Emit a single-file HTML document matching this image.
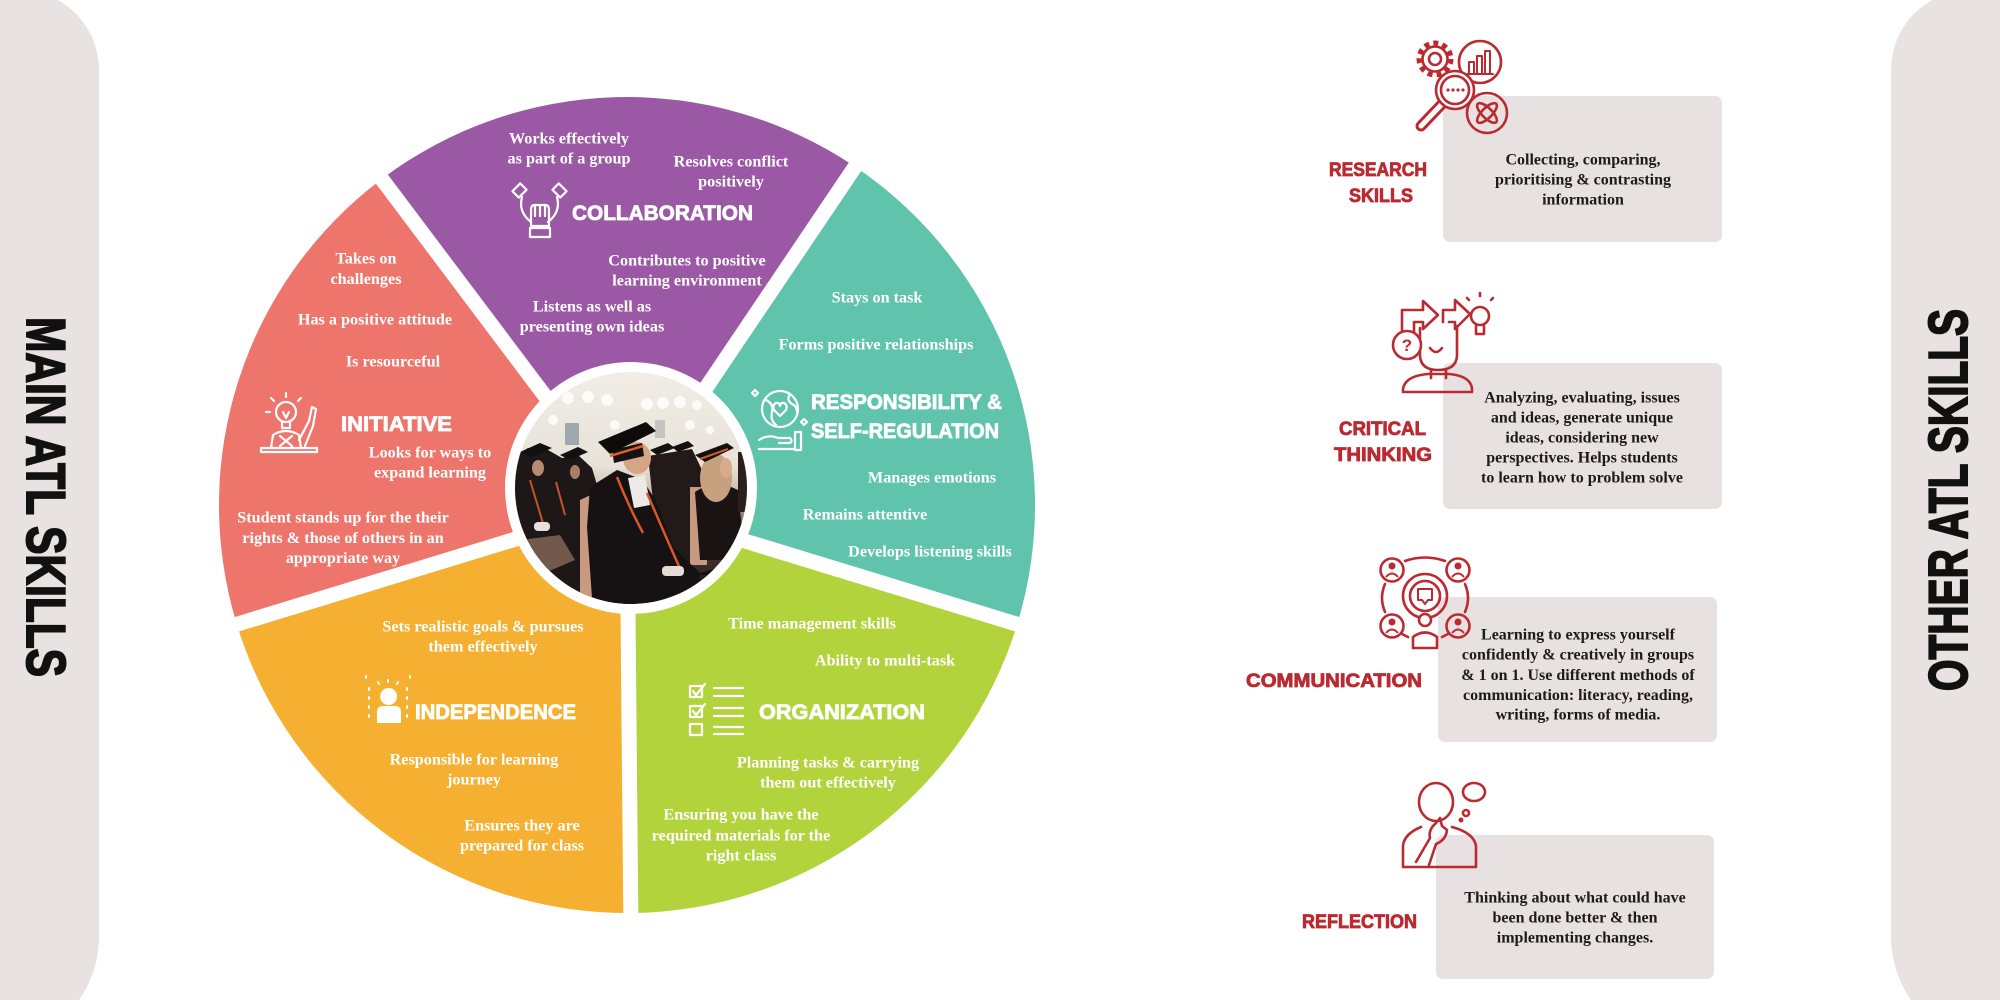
<!DOCTYPE html>
<html><head><meta charset="utf-8">
<style>
html,body{margin:0;padding:0;background:#fff;width:2000px;height:1000px;overflow:hidden}
svg{display:block}
</style></head>
<body>
<svg width="2000" height="1000" viewBox="0 0 2000 1000" xmlns="http://www.w3.org/2000/svg">
<defs>
<clipPath id="ph"><circle cx="631" cy="488" r="116"/></clipPath>
<linearGradient id="bg" x1="0" y1="0" x2="0" y2="1">
 <stop offset="0" stop-color="#f1eee7"/>
 <stop offset="0.4" stop-color="#e8e2d8"/>
 <stop offset="0.55" stop-color="#bfae9f"/>
 <stop offset="0.68" stop-color="#4a3631"/>
 <stop offset="1" stop-color="#241b19"/>
</linearGradient>
</defs>
<rect width="2000" height="1000" fill="#fff"/>

<!-- side bars -->
<path d="M -10,-10 L 19,-10 A 80 80 0 0 1 99,70 L 99,937 A 109 109 0 0 1 -10,1046 Z" fill="#e9e2e3"/>
<path d="M 2010,-10 L 1971,-10 A 80 80 0 0 0 1891,70 L 1891,937 A 109 109 0 0 0 2000,1046 L 2010,1046 Z" fill="#e9e2e3"/>

<text transform="translate(27,317) rotate(90)" x="0" y="0" font-family="Liberation Sans, sans-serif" font-weight="bold" font-size="55" textLength="360" lengthAdjust="spacingAndGlyphs" fill="#111" stroke="#111" stroke-width="2">MAIN ATL SKILLS</text>
<text transform="translate(1967,691) rotate(-90)" x="0" y="0" font-family="Liberation Sans, sans-serif" font-weight="bold" font-size="55" textLength="382" lengthAdjust="spacingAndGlyphs" fill="#111" stroke="#111" stroke-width="2">OTHER ATL SKILLS</text>

<!-- pie sectors -->
<path d="M627,505 L381.5,179.2 A408 408 0 0 1 855.2,166.8 Z" fill="#9b58a5"/>
<path d="M627,505 L855.2,166.8 A408 408 0 0 1 1017.2,624.3 Z" fill="#60c4ad"/>
<path d="M627,505 L1017.2,624.3 A408 408 0 0 1 630.6,913 Z" fill="#b3d33c"/>
<path d="M627,505 L630.6,913 A408 408 0 0 1 236.8,624.3 Z" fill="#f5b032"/>
<path d="M627,505 L236.8,624.3 A408 408 0 0 1 381.5,179.2 Z" fill="#ee756b"/>

<!-- gaps -->
<g stroke="#fff" stroke-width="15" stroke-linecap="butt">
<line x1="627" y1="505" x2="369" y2="162"/>
<line x1="627" y1="505" x2="867" y2="149"/>
<line x1="627" y1="505" x2="1036" y2="630"/>
<line x1="627" y1="505" x2="631" y2="935"/>
<line x1="627" y1="505" x2="218" y2="630"/>
</g>

<!-- photo -->
<circle cx="631" cy="488" r="126" fill="#fff"/>
<g clip-path="url(#ph)">
 <rect x="510" y="368" width="245" height="245" fill="url(#bg)"/>
 <g fill="#ffffff" opacity="0.8">
  <circle cx="568" cy="398" r="6"/><circle cx="588" cy="397" r="6"/><circle cx="607" cy="400" r="6"/>
  <circle cx="647" cy="404" r="6"/><circle cx="663" cy="403" r="6"/><circle cx="680" cy="402" r="6"/><circle cx="697" cy="405" r="5"/>
  <circle cx="553" cy="420" r="5"/><circle cx="690" cy="425" r="5"/><circle cx="615" cy="425" r="5"/><circle cx="710" cy="430" r="4"/>
 </g>
 <rect x="565" y="423" width="14" height="22" fill="#6d7d90" opacity="0.6"/>
 <rect x="655" y="420" width="10" height="18" fill="#8f8f9c" opacity="0.4"/>
 <!-- left crowd -->
 <path d="M512,458 L528,448 L548,450 L562,458 L578,455 L592,468 L600,495 L598,610 L512,610 Z" fill="#1e1717"/>
 <polygon points="520,452 540,443 552,448 532,457" fill="#111"/>
 <polygon points="560,455 578,447 588,452 570,460" fill="#111"/>
 <ellipse cx="538" cy="468" rx="6" ry="8" fill="#b98a70"/>
 <ellipse cx="575" cy="472" rx="5" ry="7" fill="#a97c66"/>
 <line x1="530" y1="480" x2="545" y2="530" stroke="#c9532a" stroke-width="2"/>
 <line x1="556" y1="482" x2="565" y2="515" stroke="#c9532a" stroke-width="2"/>
 <rect x="534" y="522" width="16" height="9" rx="4" fill="#e8e0da"/>
 <polygon points="520,540 560,535 575,560 540,575" fill="#c89a82" opacity="0.5"/>
 <!-- mid crowd -->
 <path d="M648,456 L692,449 L702,470 L698,565 L660,565 Z" fill="#221919"/>
 <polygon points="650,450 668,443 675,448 657,455" fill="#111"/>
 <polygon points="672,447 688,441 694,446 678,452" fill="#111"/>
 <!-- chair -->
 <polygon points="580,500 597,492 602,610 580,610" fill="#c99a80"/>
 <!-- right woman -->
 <polygon points="690,487 707,487 707,565 690,565" fill="#c89b80"/>
 <path d="M695,492 Q715,478 738,490 L745,560 L700,560 Z" fill="#191313"/>
 <ellipse cx="716" cy="478" rx="16" ry="24" fill="#c7a17e"/>
 <ellipse cx="726" cy="468" rx="6" ry="10" fill="#d9ab8d"/>
 <polygon points="695,455 727,443 734,448 705,462" fill="#111"/>
 <line x1="700" y1="459" x2="728" y2="449" stroke="#d5552a" stroke-width="2"/>
 <rect x="738" y="452" width="12" height="60" fill="#2a1f1e"/>
 <!-- main figure -->
 <polygon points="590,487 617,470 643,480 657,503 673,547 700,573 720,567 716,612 593,612 587,527" fill="#161213"/>
 <polygon points="628,478 645,475 650,505 634,508" fill="#ece9e6"/>
 <ellipse cx="637" cy="458" rx="14" ry="16" fill="#d6a486"/>
 <polygon points="612,450 642,443 644,456 614,463" fill="#161213"/>
 <polygon points="598,442 646,422 656,431 610,454" fill="#0e0b0b"/>
 <line x1="610" y1="456" x2="643" y2="446" stroke="#e05a2a" stroke-width="2.5"/>
 <path d="M617,477 Q628,505 643,533" stroke="#d9572b" stroke-width="2.5" fill="none"/>
 <path d="M647,493 Q665,535 682,573" stroke="#d9572b" stroke-width="2.5" fill="none"/>
 <rect x="662" y="566" width="22" height="10" rx="4" fill="#e5dcd5"/>
 <rect x="700" y="575" width="50" height="40" fill="#2b1f1d"/>
</g>

<!-- ===== pie icons (white) ===== -->
<g fill="none" stroke="#fff" stroke-width="2.2" stroke-linejoin="round" stroke-linecap="round">
 <!-- collaboration -->
 <rect x="514" y="186" width="11" height="9" transform="rotate(-45 519.5 190.5)"/>
 <rect x="554" y="186" width="11" height="9" transform="rotate(45 559.5 190.5)"/>
 <path d="M522,197 Q518,212 531,222"/>
 <path d="M557,197 Q561,212 548,222"/>
 <path d="M531,226 L531,210 Q531,205 535,205 L545,205 Q549,205 549,210 L549,226 Z"/>
 <path d="M535,205 L535,216 M540,205 L540,216 M545,205 L545,216"/>
 <rect x="530" y="228" width="20" height="9"/>
 <!-- initiative -->
 <circle cx="286" cy="412" r="10"/>
 <path d="M282,422 L282,428 L290,428 L290,422 M283,412 L286,418 L289,412"/>
 <path d="M286,397 L286,393 M274,401 L271,398 M298,401 L301,398 M270,412 L266,412"/>
 <path d="M271,448 L273,435 Q286,427 299,435 L301,448"/>
 <path d="M280,436 L292,446 M292,436 L280,446"/>
 <path d="M299,440 L309,421 L312,407 L316,409 L313,426 L305,446"/>
 <rect x="261" y="448" width="56" height="4"/>
 <!-- responsibility -->
 <circle cx="780" cy="409" r="18"/>
 <path d="M766,400 Q774,404 772,412 Q770,420 776,425 M790,394 Q786,400 792,404 Q797,406 797,412"/>
 <path d="M780,416 L774,410 Q772,405 776,403 Q779,402 780,406 Q781,402 784,403 Q788,405 786,410 Z"/>
 <path d="M759,440 Q768,434 778,438 L790,438 Q793,441 790,443 L779,443 M759,449 L795,449"/>
 <rect x="795" y="432" width="6" height="18"/>
 <path d="M755,390 L758,393 L755,396 L752,393 Z M804,419 L807,422 L804,425 L801,422 Z"/>
 <!-- organization -->
 <rect x="690" y="686" width="12" height="11"/>
 <rect x="690" y="706" width="12" height="11"/>
 <rect x="690" y="724" width="12" height="11"/>
 <path d="M693,691 L696,695 L705,684 M693,711 L696,715 L705,704"/>
 <path d="M714,688 L743,688 M714,696 L743,696 M714,708 L743,708 M714,716 L743,716 M714,727 L743,727 M714,734 L743,734"/>
 <!-- independence rays -->
 <path d="M369,688 L369,690 M369,697 L369,699 M369,706 L369,708 M369,715 L369,717 M407,688 L407,690 M407,697 L407,699 M407,706 L407,708 M407,715 L407,717 M366,676 L366,678 M410,676 L410,678 M378,682 L379,684 M388,680 L388,682 M398,682 L397,684" stroke-width="2"/>
</g>
<g fill="#fff">
 <circle cx="388.6" cy="696.5" r="8.5"/>
 <path d="M377,723 L377,712 Q377,706 383,706 L395,706 Q401,706 401,712 L401,723 Z"/>
</g>

<!-- ===== pie headings ===== -->
<g font-family="Liberation Sans, Arial, sans-serif" font-weight="bold" font-size="21" fill="#fff" stroke="#fff" stroke-width="0.8">
 <text x="572" y="220" textLength="181" lengthAdjust="spacingAndGlyphs">COLLABORATION</text>
 <text x="341" y="431" textLength="111" lengthAdjust="spacingAndGlyphs">INITIATIVE</text>
 <text x="811" y="409" textLength="191" lengthAdjust="spacingAndGlyphs">RESPONSIBILITY &amp;</text>
 <text x="811" y="438" textLength="188" lengthAdjust="spacingAndGlyphs">SELF-REGULATION</text>
 <text x="759" y="719" textLength="166" lengthAdjust="spacingAndGlyphs">ORGANIZATION</text>
 <text x="415" y="719" textLength="161" lengthAdjust="spacingAndGlyphs">INDEPENDENCE</text>
</g>

<!-- ===== pie body text ===== -->
<g font-family="Liberation Serif, 'DejaVu Serif', serif" font-weight="bold" font-size="16.2" fill="#fff" text-anchor="middle">
 <text x="569" y="143.5">Works effectively</text>
 <text x="569" y="163.5">as part of a group</text>
 <text x="731" y="166.5">Resolves conflict</text>
 <text x="731" y="186.5">positively</text>
 <text x="687" y="265.5">Contributes to positive</text>
 <text x="687" y="285.5">learning environment</text>
 <text x="592" y="311.5">Listens as well as</text>
 <text x="592" y="331.5">presenting own ideas</text>

 <text x="366" y="263.5">Takes on</text>
 <text x="366" y="284">challenges</text>
 <text x="375" y="324.5">Has a positive attitude</text>
 <text x="393" y="366.5">Is resourceful</text>
 <text x="430" y="457.5">Looks for ways to</text>
 <text x="430" y="477.5">expand learning</text>
 <text x="343" y="522.5">Student stands up for the their</text>
 <text x="343" y="543">rights &amp; those of others in an</text>
 <text x="343" y="563">appropriate way</text>

 <text x="877" y="302.5">Stays on task</text>
 <text x="876" y="349.5">Forms positive relationships</text>
 <text x="932" y="482.5">Manages emotions</text>
 <text x="865" y="519.5">Remains attentive</text>
 <text x="930" y="556.5">Develops listening skills</text>

 <text x="812" y="628.5">Time management skills</text>
 <text x="885" y="665.5">Ability to multi-task</text>
 <text x="828" y="767.5">Planning tasks &amp; carrying</text>
 <text x="828" y="787.5">them out effectively</text>
 <text x="741" y="819.5">Ensuring you have the</text>
 <text x="741" y="840.5">required materials for the</text>
 <text x="741" y="860.5">right class</text>

 <text x="483" y="631.5">Sets realistic goals &amp; pursues</text>
 <text x="483" y="651.5">them effectively</text>
 <text x="474" y="764.5">Responsible for learning</text>
 <text x="474" y="784.5">journey</text>
 <text x="522" y="830.5">Ensures they are</text>
 <text x="522" y="850.5">prepared for class</text>
</g>

<!-- ===== right side boxes ===== -->
<g fill="#e8e1e2">
 <rect x="1443" y="96" width="279" height="146" rx="7"/>
 <rect x="1443" y="363" width="279" height="146" rx="7"/>
 <rect x="1438" y="597" width="279" height="145" rx="7"/>
 <rect x="1436" y="835" width="278" height="144" rx="7"/>
</g>

<g font-family="Liberation Serif, 'DejaVu Serif', serif" font-weight="bold" font-size="16" fill="#1b1b1b" text-anchor="middle">
 <text x="1583" y="164.5">Collecting, comparing,</text>
 <text x="1583" y="184.5">prioritising &amp; contrasting</text>
 <text x="1583" y="204.5">information</text>

 <text x="1582" y="402.5">Analyzing, evaluating, issues</text>
 <text x="1582" y="422.5">and ideas, generate unique</text>
 <text x="1582" y="442.5">ideas, considering new</text>
 <text x="1582" y="462.5">perspectives. Helps students</text>
 <text x="1582" y="482.5">to learn how to problem solve</text>

 <text x="1578" y="639.5">Learning to express yourself</text>
 <text x="1578" y="659.5">confidently &amp; creatively in groups</text>
 <text x="1578" y="680">&amp; 1 on 1. Use different methods of</text>
 <text x="1578" y="700">communication: literacy, reading,</text>
 <text x="1578" y="719.5">writing, forms of media.</text>

 <text x="1575" y="902.5">Thinking about what could have</text>
 <text x="1575" y="922.5">been done better &amp; then</text>
 <text x="1575" y="942.5">implementing changes.</text>
</g>

<g font-family="Liberation Sans, Arial, sans-serif" font-weight="bold" font-size="19" fill="#bb2a30" stroke="#bb2a30" stroke-width="0.8">
 <text x="1329" y="176" textLength="98" lengthAdjust="spacingAndGlyphs">RESEARCH</text>
 <text x="1349" y="202" textLength="64" lengthAdjust="spacingAndGlyphs">SKILLS</text>
 <text x="1339" y="435" textLength="87" lengthAdjust="spacingAndGlyphs">CRITICAL</text>
 <text x="1334" y="461" textLength="98" lengthAdjust="spacingAndGlyphs">THINKING</text>
 <text x="1246" y="687" textLength="176" lengthAdjust="spacingAndGlyphs">COMMUNICATION</text>
 <text x="1302" y="928" textLength="115" lengthAdjust="spacingAndGlyphs">REFLECTION</text>
</g>

<!-- ===== red icons ===== -->
<g fill="none" stroke="#bb2a30" stroke-width="2.6" stroke-linejoin="round" stroke-linecap="round">
 <!-- research -->
 <circle cx="1435" cy="59" r="16" stroke-width="5" stroke-dasharray="5 4.2" stroke-linecap="butt"/>
 <circle cx="1435" cy="59" r="12.5"/>
 <circle cx="1435" cy="59" r="6"/>
 <circle cx="1480" cy="62" r="21" fill="#fff"/>
 <path d="M1469,73 L1469,62 L1474,62 L1474,73 M1477,73 L1477,56 L1482,56 L1482,73 M1485,73 L1485,51 L1490,51 L1490,73 M1467,74 L1493,74" stroke-width="2"/>
 <line x1="1442" y1="104" x2="1421" y2="126" stroke-width="11"/>
 <line x1="1442" y1="104" x2="1421" y2="126" stroke="#fff" stroke-width="5"/>
 <circle cx="1455" cy="90" r="19" fill="#fff"/>
 <circle cx="1455" cy="90" r="14"/>
 <g fill="#bb2a30" stroke="none"><circle cx="1448" cy="90" r="1.6"/><circle cx="1453" cy="90" r="1.6"/><circle cx="1458" cy="90" r="1.6"/><circle cx="1463" cy="90" r="1.6"/></g>
 <circle cx="1487" cy="113" r="20"/>
 <ellipse cx="1487" cy="113" rx="13" ry="5" transform="rotate(45 1487 113)"/>
 <ellipse cx="1487" cy="113" rx="13" ry="5" transform="rotate(-45 1487 113)"/>
 <!-- critical thinking -->
 <path d="M1420,328 L1420,356 Q1421,370 1438,370 Q1456,370 1457,356 L1457,326"/>
 <path d="M1430,348 Q1436,356 1442,348"/>
 <path d="M1431,370 L1431,378 M1446,370 L1446,378"/>
 <path d="M1403,392 L1403,389 Q1405,376 1428,374 L1449,374 Q1471,376 1472,389 L1472,392 Z"/>
 <path d="M1402,333 L1402,310 L1423,310 L1423,301 L1438,315 L1423,329 L1423,322 L1414,322 L1414,335"/>
 <path d="M1443,322 L1443,310 L1455,310 L1455,300 L1470,314 L1455,329 L1455,322 L1449,322"/>
 <circle cx="1407" cy="345" r="14" fill="#fff"/>
 <circle cx="1480" cy="316" r="9"/>
 <path d="M1476,326 L1476,334 L1484,334 L1484,326 M1480,296 L1480,293 M1469,300 L1467,298 M1491,300 L1493,298" />
 <!-- communication -->
 <circle cx="1392" cy="570" r="11.5"/><circle cx="1458" cy="570" r="11.5"/>
 <circle cx="1392" cy="626" r="11.5"/><circle cx="1458" cy="626" r="11.5"/>
 <path d="M1405,561 Q1425,554 1445,561 M1385,584 Q1379,598 1385,612 M1465,584 Q1471,598 1465,612 M1402,634 L1408,637 M1448,634 L1442,637"/>
 <circle cx="1425" cy="596" r="22"/>
 <circle cx="1425" cy="596" r="15"/>
 <path d="M1418,589 L1432,589 L1432,600 L1428,600 L1425,604 L1422,600 L1418,600 Z" stroke-width="2"/>
 <circle cx="1425" cy="620" r="6" fill="#fff"/>
 <path d="M1413,648 L1413,637 Q1425,628 1437,637 L1437,648 Z" fill="#fff"/>
 <!-- reflection -->
 <ellipse cx="1436" cy="802" rx="17" ry="19"/>
 <path d="M1403,867 L1403,846 Q1404,834 1421,827 M1452,827 Q1474,833 1476,846 L1476,867 L1403,867"/>
 <path d="M1416,862 L1430,838 Q1428,830 1436,823 L1440,818 L1442,826 L1447,830 Q1446,840 1436,844 L1429,865"/>
 <ellipse cx="1474" cy="792" rx="11" ry="9"/>
 <circle cx="1466" cy="813" r="3"/>
 <circle cx="1461" cy="820" r="1.2"/>
</g>
<g fill="#bb2a30" stroke="none">
 <circle cx="1392" cy="566" r="3.5"/><circle cx="1458" cy="566" r="3.5"/><circle cx="1392" cy="622" r="3.5"/><circle cx="1458" cy="622" r="3.5"/>
</g>
<g fill="none" stroke="#bb2a30" stroke-width="2">
 <path d="M1386,577 Q1392,570 1398,577"/><path d="M1452,577 Q1458,570 1464,577"/>
 <path d="M1386,633 Q1392,626 1398,633"/><path d="M1452,633 Q1458,626 1464,633"/>
</g>
<text x="1407" y="351" text-anchor="middle" font-family="Liberation Sans, sans-serif" font-weight="bold" font-size="17" fill="#bb2a30">?</text>
</svg>
</body></html>
